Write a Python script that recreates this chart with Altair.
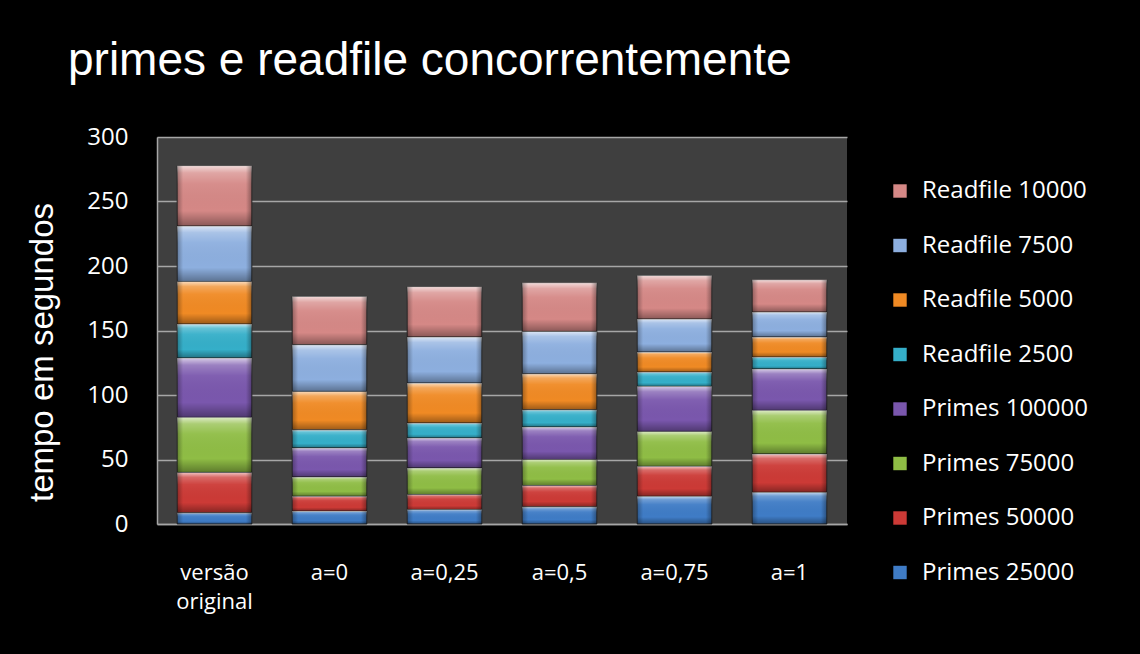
import altair as alt
import pandas as pd

# Scenarios on the x axis
categories = ["versão original", "a=0", "a=0,25", "a=0,5", "a=0,75", "a=1"]

# Time (seconds) for each workload, one value per scenario
primes_25000 = [8.7, 10.0, 11.2, 13.3, 21.5, 24.6]
primes_50000 = [31.3, 11.5, 11.6, 16.5, 23.2, 29.7]
primes_75000 = [42.7, 15.0, 20.7, 20.2, 27.1, 33.8]
primes_100000 = [46.0, 22.5, 23.2, 25.2, 34.9, 32.1]
readfile_2500 = [26.3, 14.0, 11.6, 13.4, 11.1, 9.2]
readfile_5000 = [33.0, 29.8, 31.0, 27.9, 15.5, 15.6]
readfile_7500 = [43.0, 36.2, 35.7, 32.8, 25.6, 19.3]
readfile_10000 = [46.8, 37.4, 39.0, 37.7, 33.7, 25.0]

# Series from the bottom of each stack to the top
series_names = [
    "Primes 25000", "Primes 50000", "Primes 75000", "Primes 100000",
    "Readfile 2500", "Readfile 5000", "Readfile 7500", "Readfile 10000",
]
series_values = [
    primes_25000, primes_50000, primes_75000, primes_100000,
    readfile_2500, readfile_5000, readfile_7500, readfile_10000,
]
series_colors = [
    "#3f7cc6", "#cc3a36", "#8fbd45", "#7a57ad",
    "#35afc9", "#f08a24", "#8dafdf", "#d58886",
]

rows = []
for rank, (name, values) in enumerate(zip(series_names, series_values)):
    for cat, v in zip(categories, values):
        rows.append({"cenario": cat, "serie": name, "ordem": rank, "tempo": v})
df = pd.DataFrame(rows)

# Legend lists the top segment first
legend_domain = series_names[::-1]
legend_range = series_colors[::-1]

x_enc = alt.X(
    "cenario:N",
    sort=categories,
    scale=alt.Scale(paddingInner=0.35, paddingOuter=0.175),
    axis=alt.Axis(
        title=None,
        labelAngle=0,
        ticks=False,
        domainColor="#a6a6a6",
        domainWidth=1.5,
        labelPadding=38,
        labelFont="Open Sans",
        labelFontSize=22,
        labelColor="white",
        labelLineHeight=29,
        labelExpr="split(datum.label, ' ')",
    ),
)
y_enc = alt.Y(
    "y0:Q",
    scale=alt.Scale(domain=[0, 300], nice=False),
    axis=alt.Axis(
        title="tempo em segundos",
        values=[0, 50, 100, 150, 200, 250, 300],
        ticks=False,
        domainColor="#a6a6a6",
        domainWidth=1.5,
        gridColor="#a6a6a6",
        gridWidth=1.5,
        labelPadding=29,
        labelFont="Open Sans",
        labelFontSize=24,
        labelColor="white",
        titleFont="Liberation Sans",
        titleFontSize=33,
        titleFontWeight="normal",
        titleColor="white",
        titleX=-115,
        titleY=215,
        titleAlign="center",
        titleBaseline="middle",
    ),
)

base = alt.Chart(df).transform_stack(
    stack="tempo",
    groupby=["cenario"],
    as_=["y0", "y1"],
    sort=[alt.SortField("ordem", order="ascending")],
)

segments = base.mark_bar(stroke="#2a2a2a", strokeWidth=1).encode(
    x=x_enc,
    y=y_enc,
    y2="y1:Q",
    color=alt.Color(
        "serie:N",
        scale=alt.Scale(domain=legend_domain, range=legend_range),
        legend=alt.Legend(
            title=None,
            orient="none",
            legendX=731,
            legendY=42,
            symbolType="square",
            symbolSize=180,
            symbolStrokeWidth=0,
            symbolOpacity=1,
            labelFont="Open Sans",
            labelFontSize=24,
            labelColor="white",
            labelOffset=10,
            labelLimit=260,
            rowPadding=30.5,
        ),
    ),
)

# Bevel shading: light top edge, darker bottom edge
shade_v = base.mark_bar(
    color=alt.Gradient(
        gradient="linear",
        x1=0, y1=0, x2=0, y2=1,
        stops=[
            alt.GradientStop(color="rgba(255,255,255,0.7)", offset=0),
            alt.GradientStop(color="rgba(255,255,255,0.25)", offset=0.12),
            alt.GradientStop(color="rgba(255,255,255,0.05)", offset=0.3),
            alt.GradientStop(color="rgba(0,0,0,0)", offset=0.75),
            alt.GradientStop(color="rgba(0,0,0,0.35)", offset=1),
        ],
    )
).encode(x=alt.X("cenario:N", sort=categories), y="y0:Q", y2="y1:Q")

# Bevel shading on the left and right edges
shade_h = base.mark_bar(
    color=alt.Gradient(
        gradient="linear",
        x1=0, y1=0, x2=1, y2=0,
        stops=[
            alt.GradientStop(color="rgba(0,0,0,0.3)", offset=0),
            alt.GradientStop(color="rgba(0,0,0,0)", offset=0.08),
            alt.GradientStop(color="rgba(0,0,0,0)", offset=0.92),
            alt.GradientStop(color="rgba(0,0,0,0.35)", offset=1),
        ],
    )
).encode(x=alt.X("cenario:N", sort=categories), y="y0:Q", y2="y1:Q")

chart = (
    alt.layer(segments, shade_v, shade_h)
    .properties(
        width=690,
        height=387,
        background="black",
        padding={"left": 157, "top": 137, "right": 293, "bottom": 130},
        autosize=alt.AutoSizeParams(type="none"),
        title=alt.TitleParams(
            text="primes e readfile concorrentemente",
            anchor="start",
            frame="group",
            dx=-89,
            offset=4,
            baseline="alphabetic",
            font="Liberation Sans",
            fontSize=46,
            fontWeight="normal",
            color="white",
        ),
    )
    .configure_view(fill="#3f3f3f", strokeWidth=0)
)

chart.save("out.html", embed_options={"renderer": "svg", "actions": False})
